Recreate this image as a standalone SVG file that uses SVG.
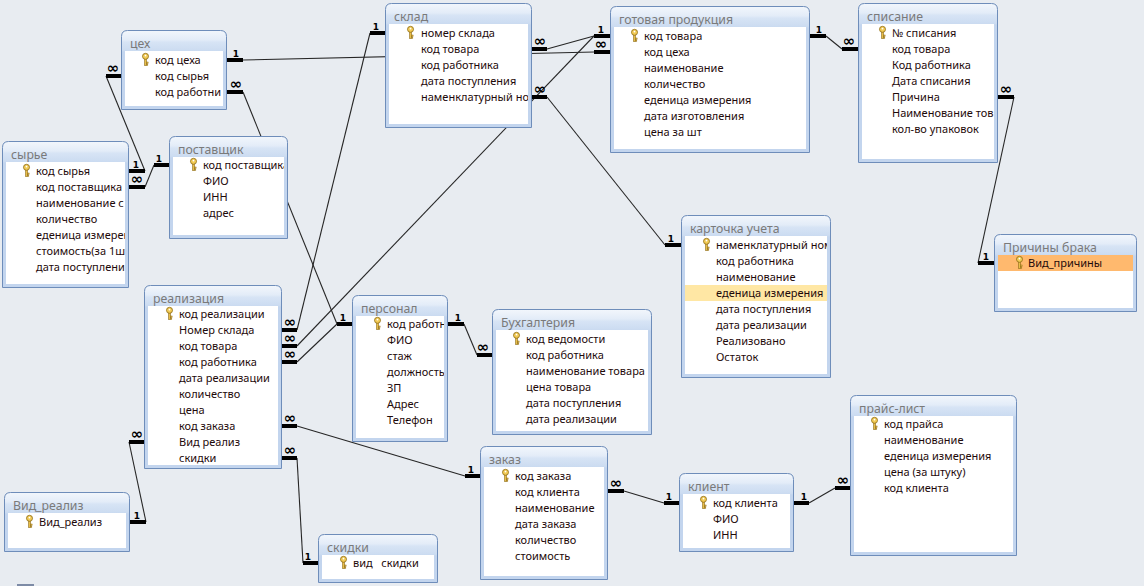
<svg xmlns="http://www.w3.org/2000/svg" xmlns:xlink="http://www.w3.org/1999/xlink" width="1144" height="586" viewBox="0 0 1144 586">
<style>
.frame{fill:url(#fr);stroke:#6E8DBA;stroke-width:1}
.body{fill:#fff}
.title{font-family:"Noto Sans","Open Sans",sans-serif;font-size:12.3px;fill:#7A7A7A}
.f{font-family:"Noto Sans","Open Sans",sans-serif;font-size:11px;fill:#1E0A0A;white-space:pre}
.st{stroke:#000;stroke-width:4;fill:none}
.ln{stroke:#262626;stroke-width:1.1;fill:none}
.one{font-family:"DejaVu Sans",sans-serif;font-weight:bold;font-size:9px;text-anchor:middle;fill:#000}
.many{font-family:"DejaVu Sans",sans-serif;font-weight:bold;font-size:15px;text-anchor:middle;fill:#000}
</style>
<defs>
<linearGradient id="fr" gradientUnits="userSpaceOnUse" x1="0" y1="0" x2="0" y2="22">
<stop offset="0" stop-color="#F3F7FC"/>
<stop offset="0.45" stop-color="#E3ECF8"/>
<stop offset="0.55" stop-color="#D7E4F5"/>
<stop offset="0.92" stop-color="#CCDCF1"/>
<stop offset="1" stop-color="#C3D5EE"/>
</linearGradient>
<symbol id="key" viewBox="0 0 7 13" width="7" height="13" overflow="visible">
<rect x="2.6" y="5.5" width="1.8" height="7" fill="#E8BE48" stroke="#8B6914" stroke-width="0.6"/>
<rect x="4.3" y="9" width="1.8" height="1.3" fill="#E8BE48" stroke="#8B6914" stroke-width="0.5"/>
<rect x="4.3" y="11" width="1.5" height="1.3" fill="#E8BE48" stroke="#8B6914" stroke-width="0.5"/>
<circle cx="3.5" cy="3.3" r="3" fill="#F2CB55" stroke="#8B6914" stroke-width="0.8"/>
<circle cx="3.5" cy="2.6" r="0.9" fill="#fff"/>
</symbol>
<clipPath id="c-tseh"><rect x="4" y="21" width="98" height="55"/></clipPath>
<clipPath id="c-syr"><rect x="4" y="21" width="119" height="121"/></clipPath>
<clipPath id="c-post"><rect x="4" y="21" width="111" height="78"/></clipPath>
<clipPath id="c-sklad"><rect x="4" y="21" width="139" height="100"/></clipPath>
<clipPath id="c-spis"><rect x="4" y="21" width="132" height="134"/></clipPath>
<clipPath id="c-kart"><rect x="4" y="21" width="142" height="137"/></clipPath>
<clipPath id="c-pers"><rect x="4" y="21" width="88" height="121"/></clipPath>
</defs>
<rect width="1144" height="586" fill="#E8ECF1"/>
<rect x="17" y="584" width="17" height="2" fill="#7D8BA6"/>

<g id="connectors">
<line class="ln" x1="243" y1="60" x2="594" y2="52"/>
<line class="st" x1="227" y1="60" x2="243" y2="60"/><text class="one" x="236" y="56.5">1</text>
<line class="st" x1="594" y1="52" x2="610" y2="52"/><text class="many" x="601" y="48.5">∞</text>
<line class="ln" x1="547" y1="49" x2="594" y2="36"/>
<line class="st" x1="532" y1="49" x2="547" y2="49"/><text class="many" x="540" y="45.5">∞</text>
<line class="st" x1="594" y1="36" x2="610" y2="36"/><text class="one" x="601" y="32.5">1</text>
<line class="ln" x1="297" y1="346" x2="594" y2="36"/>
<line class="st" x1="282" y1="346" x2="297" y2="346"/><text class="many" x="290" y="342.5">∞</text>
<line class="ln" x1="547" y1="97" x2="665" y2="245"/>
<line class="st" x1="532" y1="97" x2="547" y2="97"/><text class="many" x="540" y="93.5">∞</text>
<line class="st" x1="665" y1="245" x2="681" y2="245"/><text class="one" x="671" y="241.5">1</text>
<line class="ln" x1="370" y1="33" x2="297" y2="330"/>
<line class="st" x1="370" y1="33" x2="385" y2="33"/><text class="one" x="376" y="29.5">1</text>
<line class="st" x1="282" y1="330" x2="297" y2="330"/><text class="many" x="290" y="326.5">∞</text>
<line class="ln" x1="243" y1="92" x2="337" y2="324"/>
<line class="st" x1="227" y1="92" x2="243" y2="92"/><text class="many" x="236" y="88.5">∞</text>
<line class="st" x1="337" y1="324" x2="352" y2="324"/><text class="one" x="343" y="320.5">1</text>
<line class="ln" x1="297" y1="362" x2="337" y2="324"/>
<line class="st" x1="282" y1="362" x2="297" y2="362"/><text class="many" x="290" y="358.5">∞</text>
<line class="ln" x1="106" y1="76" x2="145" y2="171"/>
<line class="st" x1="106" y1="76" x2="121" y2="76"/><text class="many" x="113" y="72.5">∞</text>
<line class="st" x1="129" y1="171" x2="145" y2="171"/><text class="one" x="136" y="167.5">1</text>
<line class="ln" x1="145" y1="187" x2="154" y2="165"/>
<line class="st" x1="129" y1="187" x2="145" y2="187"/><text class="many" x="137" y="183.5">∞</text>
<line class="st" x1="154" y1="165" x2="169" y2="165"/><text class="one" x="159" y="161.5">1</text>
<line class="ln" x1="464" y1="324" x2="477" y2="355"/>
<line class="st" x1="448" y1="324" x2="464" y2="324"/><text class="one" x="458" y="320.5">1</text>
<line class="st" x1="477" y1="355" x2="492" y2="355"/><text class="many" x="483" y="351.5">∞</text>
<line class="ln" x1="297" y1="426" x2="465" y2="476"/>
<line class="st" x1="282" y1="426" x2="297" y2="426"/><text class="many" x="290" y="422.5">∞</text>
<line class="st" x1="465" y1="476" x2="480" y2="476"/><text class="one" x="471" y="472.5">1</text>
<line class="ln" x1="297" y1="458" x2="303" y2="563"/>
<line class="st" x1="282" y1="458" x2="297" y2="458"/><text class="many" x="290" y="454.5">∞</text>
<line class="st" x1="303" y1="563" x2="318" y2="563"/><text class="one" x="308" y="559.5">1</text>
<line class="ln" x1="129" y1="442" x2="146" y2="522"/>
<line class="st" x1="129" y1="442" x2="144" y2="442"/><text class="many" x="137" y="438.5">∞</text>
<line class="st" x1="130" y1="522" x2="146" y2="522"/><text class="one" x="137" y="518.5">1</text>
<line class="ln" x1="624" y1="491" x2="664" y2="503"/>
<line class="st" x1="608" y1="491" x2="624" y2="491"/><text class="many" x="616" y="487.5">∞</text>
<line class="st" x1="664" y1="503" x2="679" y2="503"/><text class="one" x="669" y="499.5">1</text>
<line class="ln" x1="809" y1="503" x2="835" y2="488"/>
<line class="st" x1="794" y1="503" x2="809" y2="503"/><text class="one" x="804" y="499.5">1</text>
<line class="st" x1="835" y1="488" x2="850" y2="488"/><text class="many" x="843" y="484.5">∞</text>
<line class="ln" x1="826" y1="36" x2="842" y2="49"/>
<line class="st" x1="810" y1="36" x2="826" y2="36"/><text class="one" x="819" y="32.5">1</text>
<line class="st" x1="842" y1="49" x2="858" y2="49"/><text class="many" x="849" y="45.5">∞</text>
<line class="ln" x1="1014" y1="97" x2="978" y2="263"/>
<line class="st" x1="998" y1="97" x2="1014" y2="97"/><text class="many" x="1006" y="93.5">∞</text>
<line class="st" x1="978" y1="263" x2="994" y2="263"/><text class="one" x="986" y="259.5">1</text>
</g>

<g id="t-tseh" transform="translate(121,30)">
<path class="frame" d="M0.5,79.5V6.5Q0.5,0.5 6.5,0.5H99.5Q105.5,0.5 105.5,6.5V79.5Z"/>
<rect class="body" x="4" y="21" width="98" height="55"/>
<text class="title" x="9" y="18">цех</text>
<use href="#key" x="21" y="23"/>
<g clip-path="url(#c-tseh)">
<text class="f" x="34" y="34">код цеха</text>
<text class="f" x="34" y="50">код сырья</text>
<text class="f" x="34" y="66">код работни</text>
</g>
</g>

<g id="t-syrie" transform="translate(2,141)">
<path class="frame" d="M0.5,146.5V6.5Q0.5,0.5 6.5,0.5H120.5Q126.5,0.5 126.5,6.5V146.5Z"/>
<rect class="body" x="4" y="21" width="119" height="122"/>
<text class="title" x="9" y="18">сырье</text>
<use href="#key" x="21" y="23"/>
<g clip-path="url(#c-syr)">
<text class="f" x="34" y="34">код сырья</text>
<text class="f" x="34" y="50">код поставщика</text>
<text class="f" x="34" y="66">наименование с</text>
<text class="f" x="34" y="82">количество</text>
<text class="f" x="34" y="98">еденица измерен</text>
<text class="f" x="34" y="114">стоимость(за 1шт</text>
<text class="f" x="34" y="130">дата поступлени</text>
</g>
</g>

<g id="t-post" transform="translate(169,136)">
<path class="frame" d="M0.5,102.5V6.5Q0.5,0.5 6.5,0.5H112.5Q118.5,0.5 118.5,6.5V102.5Z"/>
<rect class="body" x="4" y="21" width="111" height="78"/>
<text class="title" x="9" y="18">поставщик</text>
<use href="#key" x="21" y="22"/>
<g clip-path="url(#c-post)">
<text class="f" x="34" y="33">код поставщика</text>
<text class="f" x="34" y="49">ФИО</text>
<text class="f" x="34" y="65">ИНН</text>
<text class="f" x="34" y="81">адрес</text>
</g>
</g>

<g id="t-sklad" transform="translate(385,3)">
<path class="frame" d="M0.5,124.5V6.5Q0.5,0.5 6.5,0.5H140.5Q146.5,0.5 146.5,6.5V124.5Z"/>
<rect class="body" x="4" y="21" width="139" height="100"/>
<text class="title" x="9" y="18">склад</text>
<use href="#key" x="22" y="23"/>
<g clip-path="url(#c-sklad)">
<text class="f" x="36" y="34">номер склада</text>
<text class="f" x="36" y="50">код товара</text>
<text class="f" x="36" y="66">код работника</text>
<text class="f" x="36" y="82">дата поступления</text>
<text class="f" x="36" y="98">наменклатурный но</text>
</g>
</g>

<g id="t-gotov" transform="translate(610,6)">
<path class="frame" d="M0.5,146.5V6.5Q0.5,0.5 6.5,0.5H193.5Q199.5,0.5 199.5,6.5V146.5Z"/>
<rect class="body" x="4" y="21" width="192" height="122"/>
<text class="title" x="9" y="18">готовая продукция</text>
<use href="#key" x="21" y="23"/>
<text class="f" x="34" y="34">код товара</text>
<text class="f" x="34" y="50">код цеха</text>
<text class="f" x="34" y="66">наименование</text>
<text class="f" x="34" y="82">количество</text>
<text class="f" x="34" y="98">еденица измерения</text>
<text class="f" x="34" y="114">дата изготовления</text>
<text class="f" x="34" y="130">цена за шт</text>
</g>

<g id="t-spis" transform="translate(858,3)">
<path class="frame" d="M0.5,159.5V6.5Q0.5,0.5 6.5,0.5H133.5Q139.5,0.5 139.5,6.5V159.5Z"/>
<rect class="body" x="4" y="21" width="132" height="135"/>
<text class="title" x="9" y="18">списание</text>
<use href="#key" x="21" y="23"/>
<g clip-path="url(#c-spis)">
<text class="f" x="34" y="34">№ списания</text>
<text class="f" x="34" y="50">код товара</text>
<text class="f" x="34" y="66">Код работника</text>
<text class="f" x="34" y="82">Дата списания</text>
<text class="f" x="34" y="98">Причина</text>
<text class="f" x="34" y="114">Наименование тов</text>
<text class="f" x="34" y="130">кол-во упаковок</text>
</g>
</g>

<g id="t-prich" transform="translate(994,234)">
<path class="frame" d="M0.5,77.5V6.5Q0.5,0.5 6.5,0.5H136.5Q142.5,0.5 142.5,6.5V77.5Z"/>
<rect class="body" x="4" y="21" width="135" height="53"/>
<rect x="4" y="21" width="135" height="16" fill="#FFB96E"/>
<text class="title" x="9" y="18">Причины брака</text>
<use href="#key" x="22" y="22"/>
<text class="f" x="34" y="33">Вид_причины</text>
</g>

<g id="t-kart" transform="translate(681,215)">
<path class="frame" d="M0.5,162.5V6.5Q0.5,0.5 6.5,0.5H143.5Q149.5,0.5 149.5,6.5V162.5Z"/>
<rect class="body" x="4" y="21" width="142" height="138"/>
<rect x="4" y="70" width="142" height="16" fill="#FFE7A4"/>
<text class="title" x="9" y="18">карточка учета</text>
<use href="#key" x="22" y="23"/>
<g clip-path="url(#c-kart)">
<text class="f" x="35" y="34">наменклатурный ном</text>
<text class="f" x="35" y="50">код работника</text>
<text class="f" x="35" y="66">наименование</text>
<text class="f" x="35" y="82">еденица измерения</text>
<text class="f" x="35" y="98">дата поступления</text>
<text class="f" x="35" y="114">дата реализации</text>
<text class="f" x="35" y="130">Реализовано</text>
<text class="f" x="35" y="146">Остаток</text>
</g>
</g>

<g id="t-real" transform="translate(144,285)">
<path class="frame" d="M0.5,183.5V6.5Q0.5,0.5 6.5,0.5H131.5Q137.5,0.5 137.5,6.5V183.5Z"/>
<rect class="body" x="4" y="21" width="130" height="159"/>
<text class="title" x="9" y="18">реализация</text>
<use href="#key" x="22" y="22"/>
<text class="f" x="35" y="33">код реализации</text>
<text class="f" x="35" y="49">Номер склада</text>
<text class="f" x="35" y="65">код товара</text>
<text class="f" x="35" y="81">код работника</text>
<text class="f" x="35" y="97">дата реализации</text>
<text class="f" x="35" y="113">количество</text>
<text class="f" x="35" y="129">цена</text>
<text class="f" x="35" y="145">код заказа</text>
<text class="f" x="35" y="161">Вид реализ</text>
<text class="f" x="35" y="177">скидки</text>
</g>

<g id="t-pers" transform="translate(352,295)">
<path class="frame" d="M0.5,146.5V6.5Q0.5,0.5 6.5,0.5H89.5Q95.5,0.5 95.5,6.5V146.5Z"/>
<rect class="body" x="4" y="21" width="88" height="122"/>
<text class="title" x="9" y="18">персонал</text>
<use href="#key" x="22" y="22"/>
<g clip-path="url(#c-pers)">
<text class="f" x="35" y="33">код работн</text>
<text class="f" x="35" y="49">ФИО</text>
<text class="f" x="35" y="65">стаж</text>
<text class="f" x="35" y="81">должность</text>
<text class="f" x="35" y="97">ЗП</text>
<text class="f" x="35" y="113">Адрес</text>
<text class="f" x="35" y="129">Телефон</text>
</g>
</g>

<g id="t-buh" transform="translate(492,309)">
<path class="frame" d="M0.5,125.5V6.5Q0.5,0.5 6.5,0.5H153.5Q159.5,0.5 159.5,6.5V125.5Z"/>
<rect class="body" x="4" y="21" width="152" height="101"/>
<text class="title" x="9" y="18">Бухгалтерия</text>
<use href="#key" x="21" y="23"/>
<text class="f" x="34" y="34">код ведомости</text>
<text class="f" x="34" y="50">код работника</text>
<text class="f" x="34" y="66">наименование товара</text>
<text class="f" x="34" y="82">цена товара</text>
<text class="f" x="34" y="98">дата поступления</text>
<text class="f" x="34" y="114">дата реализации</text>
</g>

<g id="t-zakaz" transform="translate(480,446)">
<path class="frame" d="M0.5,133.5V6.5Q0.5,0.5 6.5,0.5H121.5Q127.5,0.5 127.5,6.5V133.5Z"/>
<rect class="body" x="4" y="21" width="120" height="109"/>
<text class="title" x="9" y="18">заказ</text>
<use href="#key" x="22" y="23"/>
<text class="f" x="35" y="34">код заказа</text>
<text class="f" x="35" y="50">код клиента</text>
<text class="f" x="35" y="66">наименование</text>
<text class="f" x="35" y="82">дата заказа</text>
<text class="f" x="35" y="98">количество</text>
<text class="f" x="35" y="114">стоимость</text>
</g>

<g id="t-klient" transform="translate(679,473)">
<path class="frame" d="M0.5,78.5V6.5Q0.5,0.5 6.5,0.5H108.5Q114.5,0.5 114.5,6.5V78.5Z"/>
<rect class="body" x="4" y="21" width="107" height="54"/>
<text class="title" x="9" y="18">клиент</text>
<use href="#key" x="21" y="23"/>
<text class="f" x="34" y="34">код клиента</text>
<text class="f" x="34" y="50">ФИО</text>
<text class="f" x="34" y="66">ИНН</text>
</g>

<g id="t-prais" transform="translate(850,395)">
<path class="frame" d="M0.5,160.5V6.5Q0.5,0.5 6.5,0.5H160.5Q166.5,0.5 166.5,6.5V160.5Z"/>
<rect class="body" x="4" y="21" width="159" height="136"/>
<text class="title" x="9" y="18">прайс-лист</text>
<use href="#key" x="21" y="22"/>
<text class="f" x="34" y="33">код прайса</text>
<text class="f" x="34" y="49">наименование</text>
<text class="f" x="34" y="65">еденица измерения</text>
<text class="f" x="34" y="81">цена (за штуку)</text>
<text class="f" x="34" y="97">код клиента</text>
</g>

<g id="t-vidreal" transform="translate(4,492)">
<path class="frame" d="M0.5,59.5V6.5Q0.5,0.5 6.5,0.5H119.5Q125.5,0.5 125.5,6.5V59.5Z"/>
<rect class="body" x="4" y="21" width="118" height="35"/>
<text class="title" x="9" y="18">Вид_реализ</text>
<use href="#key" x="22" y="23"/>
<text class="f" x="35" y="34">Вид_реализ</text>
</g>

<g id="t-skidki" transform="translate(318,534)">
<path class="frame" d="M0.5,48.5V6.5Q0.5,0.5 6.5,0.5H113.5Q119.5,0.5 119.5,6.5V48.5Z"/>
<rect class="body" x="4" y="21" width="112" height="24"/>
<text class="title" x="9" y="18">скидки</text>
<use href="#key" x="22" y="22"/>
<text class="f" x="35" y="33">вид   скидки</text>
</g>
</svg>
